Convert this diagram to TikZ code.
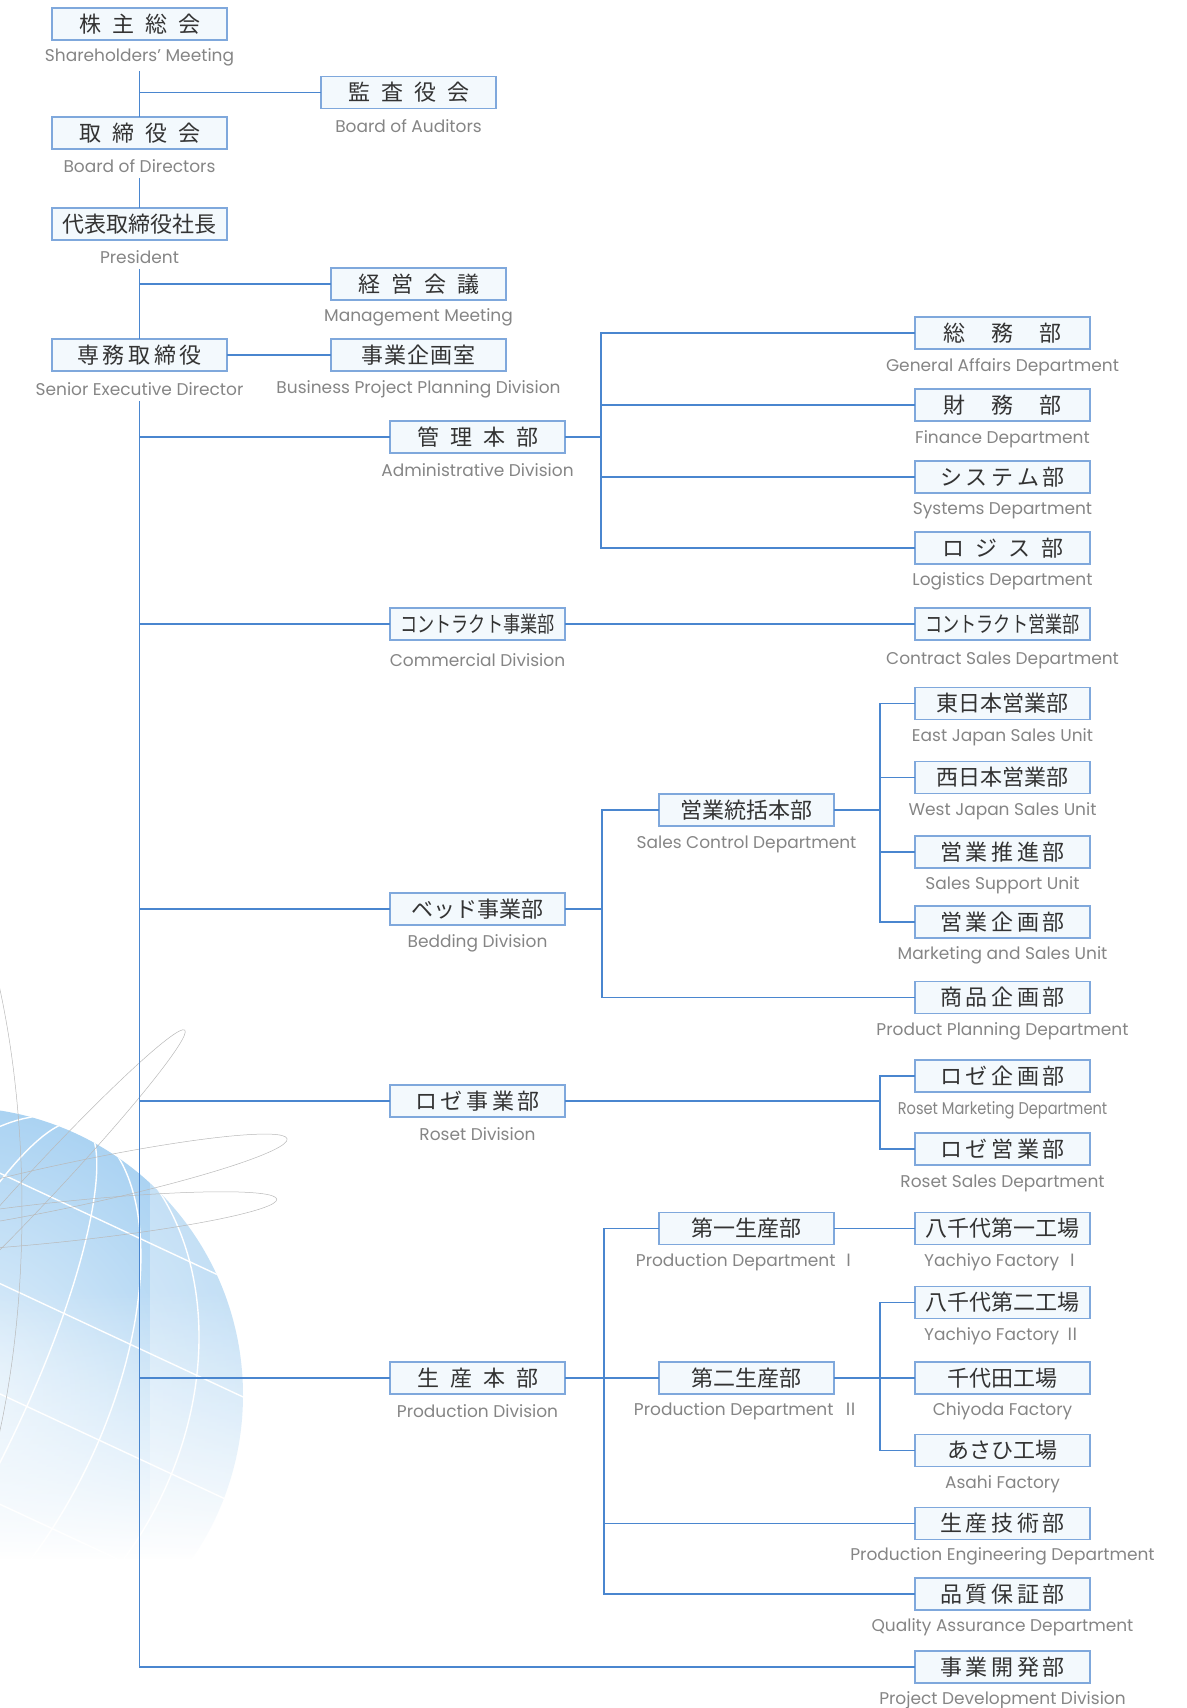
\documentclass[tikz,border=0pt]{standalone}
\usepackage{graphicx}
\usepackage{fontspec}
\setmainfont{Poppins}
\newfontfamily\jp{Noto Sans CJK JP}
\usetikzlibrary{fadings}
\definecolor{linkblue}{HTML}{4A86CF}
\definecolor{boxedge}{HTML}{7FA8DC}
\definecolor{boxfill}{HTML}{F3F9FD}
\definecolor{engray}{HTML}{858585}
\definecolor{globeblue}{HTML}{9CCBF0}
\tikzset{>=latex,
    unit/.style={draw=boxedge, fill=boxfill, line width=1.3pt, minimum width=175pt,
      minimum height=32pt, inner sep=0pt, text=black!80,
      font=\jp\fontsize{22}{22}\selectfont},
    eng/.style={inner sep=0pt, text=engray, yshift=-2pt, font=\fontsize{17}{17}\selectfont},
    link/.style={draw=linkblue, line width=1.8pt, line cap=rect}}
\tikzfading[name=globefade, top color=transparent!100, bottom color=transparent!0]
\newcommand{\jsep}{\hspace{0.5em}}
\newcommand{\jsepn}{\hspace{0.16em}}
\newcommand{\jsepw}{\hspace{1.2em}}

\begin{document}
\begin{tikzpicture}[x=1pt, y=-1pt]
  \useasboundingbox (0,0) rectangle (1186,1708);
  % globe in the corner
  \begin{scope}
    \clip (0,0) rectangle (1186,1708);
    \coordinate (gc) at (-45,1395);
    \shade[inner color=globeblue!25, outer color=globeblue!85] (gc) circle (288);
    \begin{scope}
      \clip (gc) circle (288);
      \begin{scope}[shift={(gc)}, rotate=-25]
        \foreach \r in {70,150,230}
          \draw[white, line width=1.4pt] (0,0) ellipse ({\r} and 300);
        \foreach \h in {-220,-120,-20,80,180}
          \draw[white, line width=1.4pt] (-300,\h) -- (300,\h);
      \end{scope}
    \end{scope}
    \fill[white, path fading=globefade] (0,1290) rectangle (420,1560);
    \fill[white] (0,1559) rectangle (420,1708);
    \fill[white, opacity=0.3] (150,1100) rectangle (420,1560);
    % orbits
    \draw[gray!55, line width=0.5pt, rotate around={47:(45,1180)}] (45,1180) ellipse (205 and 16);
    \draw[gray!55, line width=0.5pt, rotate around={12:(70,1185)}] (70,1185) ellipse (222 and 22);
    \draw[gray!55, line width=0.5pt, rotate around={6:(60,1222)}] (60,1222) ellipse (218 and 20);
    \draw[gray!55, line width=0.5pt] (-150,1210) ellipse (172 and 450);
  \end{scope}

  % top of the company
  \node[unit] (kabu) at (139.5,24) {株\jsep 主\jsep 総\jsep 会};
  \node[eng] (kabu-en) at (139.5,55) {Shareholders’ Meeting};
  \node[unit] (kansa) at (408.5,92.5) {監\jsep 査\jsep 役\jsep 会};
  \node[eng] (kansa-en) at (408.5,124) {Board of Auditors};
  \node[unit] (tori) at (139.5,133) {取\jsep 締\jsep 役\jsep 会};
  \node[eng] (tori-en) at (139.5,164) {Board of Directors};
  \node[unit] (shacho) at (139.5,224) {代表取締役社長};
  \node[eng] (shacho-en) at (139.5,255) {President};
  \node[unit] (keiei) at (418.5,284) {経\jsep 営\jsep 会\jsep 議};
  \node[eng] (keiei-en) at (418.5,315) {Management Meeting};
  \node[unit] (senmu) at (139.5,355) {専\jsepn 務\jsepn 取\jsepn 締\jsepn 役};
  \node[eng] (senmu-en) at (139.5,387) {Senior Executive Director};
  \node[unit] (kikaku) at (418.5,355) {事\hspace{.05em}業\hspace{.05em}企\hspace{.05em}画\hspace{.05em}室};
  \node[eng] (kikaku-en) at (418.5,387) {Business Project Planning Division};

  % administration
  \node[unit] (kanri) at (477.5,437) {管\jsep 理\jsep 本\jsep 部};
  \node[eng] (kanri-en) at (477.5,468) {Administrative Division};
  \node[unit] (somu) at (1002.5,333) {総\jsepw 務\jsepw 部};
  \node[eng] (somu-en) at (1002.5,365) {General Affairs Department};
  \node[unit] (zaimu) at (1002.5,405) {財\jsepw 務\jsepw 部};
  \node[eng] (zaimu-en) at (1002.5,437) {Finance Department};
  \node[unit] (system) at (1002.5,477) {シ\jsepn ス\jsepn テ\jsepn ム\jsepn 部};
  \node[eng] (system-en) at (1002.5,509) {Systems Department};
  \node[unit] (logis) at (1002.5,548) {ロ\jsep ジ\jsep ス\jsep 部};
  \node[eng] (logis-en) at (1002.5,579) {Logistics Department};

  % contract
  \node[unit] (keiyaku) at (477.5,624) {\scalebox{0.78}[1]{コントラクト事業部}};
  \node[eng] (keiyaku-en) at (477.5,658) {Commercial Division};
  \node[unit] (keiyakueigyo) at (1002.5,624) {\scalebox{0.78}[1]{コントラクト営業部}};
  \node[eng] (keiyakueigyo-en) at (1002.5,658) {Contract Sales Department};

  % bedding
  \node[unit] (bed) at (477.5,909) {ベッド事業部};
  \node[eng] (bed-en) at (477.5,941) {Bedding Division};
  \node[unit] (eigyo) at (746.5,810) {営業統括本部};
  \node[eng] (eigyo-en) at (746.5,842) {Sales Control Department};
  \node[unit] (higashi) at (1002.5,703.5) {東日本営業部};
  \node[eng] (higashi-en) at (1002.5,735) {East Japan Sales Unit};
  \node[unit] (nishi) at (1002.5,777.5) {西日本営業部};
  \node[eng] (nishi-en) at (1002.5,809) {West Japan Sales Unit};
  \node[unit] (suishin) at (1002.5,852) {営\jsepn 業\jsepn 推\jsepn 進\jsepn 部};
  \node[eng] (suishin-en) at (1002.5,883) {Sales Support Unit};
  \node[unit] (eikikaku) at (1002.5,922) {営\jsepn 業\jsepn 企\jsepn 画\jsepn 部};
  \node[eng] (eikikaku-en) at (1002.5,953) {Marketing and Sales Unit};
  \node[unit] (shohin) at (1002.5,997.5) {商\jsepn 品\jsepn 企\jsepn 画\jsepn 部};
  \node[eng] (shohin-en) at (1002.5,1029) {Product Planning Department};

  % roset
  \node[unit] (roset) at (477.5,1101) {ロ\jsepn ゼ\jsepn 事\jsepn 業\jsepn 部};
  \node[eng] (roset-en) at (477.5,1132) {Roset Division};
  \node[unit] (rkikaku) at (1002.5,1076) {ロ\jsepn ゼ\jsepn 企\jsepn 画\jsepn 部};
  \node[eng] (rkikaku-en) at (1002.5,1108) {\scalebox{0.86}[1]{Roset Marketing Department}};
  \node[unit] (reigyo) at (1002.5,1149) {ロ\jsepn ゼ\jsepn 営\jsepn 業\jsepn 部};
  \node[eng] (reigyo-en) at (1002.5,1181) {Roset Sales Department};

  % production
  \node[unit] (seisan) at (477.5,1378) {生\jsep 産\jsep 本\jsep 部};
  \node[eng] (seisan-en) at (477.5,1409) {Production Division};
  \node[unit] (seisan1) at (746.5,1228.5) {第一生産部};
  \node[eng] (seisan1-en) at (746.5,1260) {Production Department {\jp Ⅰ}};
  \node[unit] (seisan2) at (746.5,1378) {第二生産部};
  \node[eng] (seisan2-en) at (746.5,1409) {Production Department\enspace{\jp Ⅱ}};
  \node[unit] (yachiyo1) at (1002.5,1228.5) {八千代第一工場};
  \node[eng] (yachiyo1-en) at (1002.5,1260) {Yachiyo Factory {\jp Ⅰ}};
  \node[unit] (yachiyo2) at (1002.5,1302.5) {八千代第二工場};
  \node[eng] (yachiyo2-en) at (1002.5,1334) {Yachiyo Factory {\jp Ⅱ}};
  \node[unit] (chiyoda) at (1002.5,1378) {千代田工場};
  \node[eng] (chiyoda-en) at (1002.5,1409) {Chiyoda Factory};
  \node[unit] (asahi) at (1002.5,1450.5) {あさひ工場};
  \node[eng] (asahi-en) at (1002.5,1482) {Asahi Factory};
  \node[unit] (gijutsu) at (1002.5,1523.5) {生\jsepn 産\jsepn 技\jsepn 術\jsepn 部};
  \node[eng] (gijutsu-en) at (1002.5,1554) {Production Engineering Department};
  \node[unit] (hinshitsu) at (1002.5,1594) {品\jsepn 質\jsepn 保\jsepn 証\jsepn 部};
  \node[eng] (hinshitsu-en) at (1002.5,1625) {Quality Assurance Department};
  \node[unit] (kaihatsu) at (1002.5,1667) {事\jsepn 業\jsepn 開\jsepn 発\jsepn 部};
  \node[eng] (kaihatsu-en) at (1002.5,1698) {Project Development Division};

  % bus lines
  \coordinate (admbus) at (601,0);
  \coordinate (bedbus) at (602,0);
  \coordinate (prdbus) at (604,0);
  \coordinate (salbus) at (880,0);

  % trunk
  \draw[link, shorten <=6pt] (kabu-en.south) -- (tori.north);
  \draw[link] (kansa.west) -- (kansa.west -| tori.north);
  \draw[link, shorten <=6pt] (tori-en.south) -- (shacho.north);
  \draw[link, shorten <=6pt] (shacho-en.south) -- (senmu.north);
  \draw[link] (keiei.west) -- (keiei.west -| senmu.north);
  \draw[link] (senmu.east) -- (kikaku.west);
  \draw[link, shorten <=6pt] (senmu-en.south) -- (senmu-en.south |- kaihatsu.west) -- (kaihatsu.west);
  \foreach \d in {kanri,keiyaku,bed,roset,seisan}
    \draw[link] (\d.west) -- (\d.west -| senmu-en.south);

  % administration
  \draw[link] (kanri.east) -- (kanri.east -| admbus);
  \draw[link] (somu.west -| admbus) -- (logis.west -| admbus);
  \foreach \d in {somu,zaimu,system,logis}
    \draw[link] (\d.west) -- (\d.west -| admbus);

  % contract
  \draw[link] (keiyaku.east) -- (keiyakueigyo.west);

  % bedding
  \draw[link] (bed.east) -- (bed.east -| bedbus);
  \draw[link] (eigyo.west -| bedbus) -- (shohin.west -| bedbus);
  \foreach \d in {eigyo,shohin}
    \draw[link] (\d.west) -- (\d.west -| bedbus);
  \draw[link] (eigyo.east) -- (eigyo.east -| salbus);
  \draw[link] (higashi.west -| salbus) -- (eikikaku.west -| salbus);
  \foreach \d in {higashi,nishi,suishin,eikikaku}
    \draw[link] (\d.west) -- (\d.west -| salbus);

  % roset
  \draw[link] (roset.east) -- (roset.east -| salbus);
  \draw[link] (rkikaku.west -| salbus) -- (reigyo.west -| salbus);
  \foreach \d in {rkikaku,reigyo}
    \draw[link] (\d.west) -- (\d.west -| salbus);

  % production
  \draw[link] (seisan.east) -- (seisan.east -| prdbus);
  \draw[link] (seisan1.west -| prdbus) -- (hinshitsu.west -| prdbus);
  \foreach \d in {seisan1,seisan2,gijutsu,hinshitsu}
    \draw[link] (\d.west) -- (\d.west -| prdbus);
  \draw[link] (seisan1.east) -- (yachiyo1.west);
  \draw[link] (seisan2.east) -- (seisan2.east -| salbus);
  \draw[link] (yachiyo2.west -| salbus) -- (asahi.west -| salbus);
  \foreach \d in {yachiyo2,chiyoda,asahi}
    \draw[link] (\d.west) -- (\d.west -| salbus);
\end{tikzpicture}
\end{document}
